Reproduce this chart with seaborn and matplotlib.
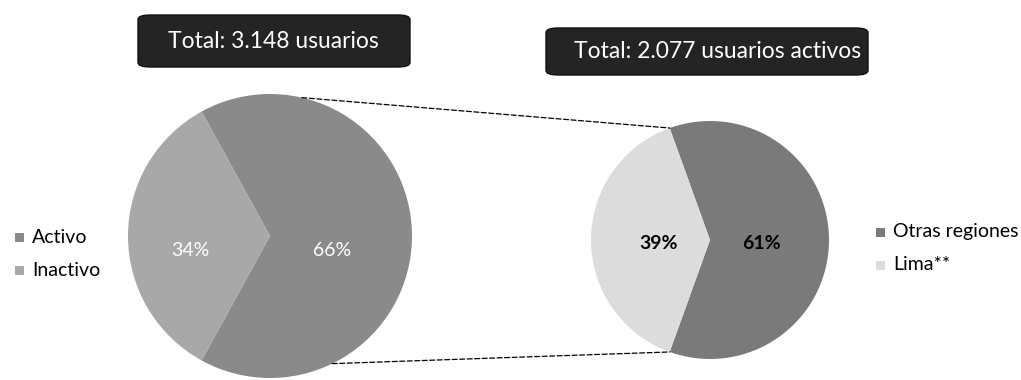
import numpy as np
import matplotlib
matplotlib.use("Agg")
import matplotlib.pyplot as plt
import seaborn as sns
from matplotlib.patches import ConnectionPatch, FancyBboxPatch, Rectangle

# ---- data ----
left_labels = ["Activo", "Inactivo"]
left_values = [66, 34]
left_title = "Total: 3.148 usuarios"

right_labels = ["Otras regiones", "Lima**"]
right_values = [61, 39]
right_title = "Total: 2.077 usuarios activos"

sns.set_theme(style="white")
plt.rcParams["font.family"] = ["Lato", "DejaVu Sans"]

W, H = 1021, 380
fig = plt.figure(figsize=(W / 100, H / 100), dpi=100)
fig.patch.set_facecolor("white")

left_colors = ["#8a8a8a", "#a8a8a8"]
right_colors = ["#7a7a7a", "#dcdcdc"]


def pie_axes(cx, cy, r):
    return fig.add_axes([(cx - r) / W, (H - cy - r) / H, 2 * r / W, 2 * r / H])


# left pie
ax1 = pie_axes(270, 236, 142)
start1 = -left_values[0] / 100 * 180
w1, t1, a1 = ax1.pie(left_values, colors=left_colors, startangle=start1,
                     autopct="%1.0f%%", pctdistance=0.5, radius=1,
                     wedgeprops=dict(linewidth=0),
                     textprops=dict(color="white", fontsize=14))
for t in a1:
    x, y = t.get_position()
    t.set_position((x * 1.0, y - 0.1))
a1[1].set_position((a1[1].get_position()[0] * 1.12, a1[1].get_position()[1]))
a1[0].set_position((a1[0].get_position()[0] * 0.88, a1[0].get_position()[1]))
ax1.set_xlim(-1, 1); ax1.set_ylim(-1, 1); ax1.set_aspect("equal"); ax1.axis("off")

# right pie
ax2 = pie_axes(710, 240, 119)
start2 = -right_values[0] / 100 * 180
w2, t2, a2 = ax2.pie(right_values, colors=right_colors, startangle=start2,
                     autopct="%1.0f%%", pctdistance=0.43, radius=1,
                     wedgeprops=dict(linewidth=0),
                     textprops=dict(color="black", fontsize=14, fontweight="bold"))
for t in a2:
    x, y = t.get_position()
    t.set_position((x, y - 0.03))
ax2.set_xlim(-1, 1); ax2.set_ylim(-1, 1); ax2.set_aspect("equal"); ax2.axis("off")

# connector lines
lima_top = np.deg2rad(start2 + 360 * right_values[0] / 100)
lima_bot = np.deg2rad(start2 + 360)
for a_left, a_right in [(77, lima_top), (-64, lima_bot)]:
    al = np.deg2rad(a_left)
    con = ConnectionPatch(xyA=(np.cos(al), np.sin(al)), coordsA=ax1.transData,
                          xyB=(np.cos(a_right), np.sin(a_right)), coordsB=ax2.transData,
                          color="black", linestyle=(0, (4, 2)), linewidth=0.9)
    fig.add_artist(con)


# title boxes
def title_box(x0, y0, x1, y1, text, tx):
    box = FancyBboxPatch(((x0) / W, (H - y1) / H), (x1 - x0) / W, (y1 - y0) / H,
                         boxstyle="round,pad=0,rounding_size=0.012",
                         transform=fig.transFigure, facecolor="#242424",
                         edgecolor="#111111", linewidth=1)
    fig.add_artist(box)
    fig.text(tx / W, 1 - (y0 + y1) / 2 / H, text, color="white",
             fontsize=16.5, ha="center", va="center")


title_box(138, 15, 410, 67, left_title, 273)
title_box(546, 28, 868, 75, right_title, 718)


# legends
def legend(x_marker, x_text, ys, labels, colors):
    for y, lab, c in zip(ys, labels, colors):
        fig.add_artist(Rectangle(((x_marker - 4.5) / W, (H - y - 4.5) / H), 9 / W, 9 / H,
                                 transform=fig.transFigure, facecolor=c,
                                 edgecolor="none"))
        fig.text(x_text / W, 1 - y / H, lab, fontsize=14, ha="left", va="center",
                 color="black")


legend(19, 32, [237, 270], left_labels, left_colors)
legend(880, 893, [232, 265], right_labels, right_colors)

fig.savefig("out.png", dpi=100, facecolor="white")
